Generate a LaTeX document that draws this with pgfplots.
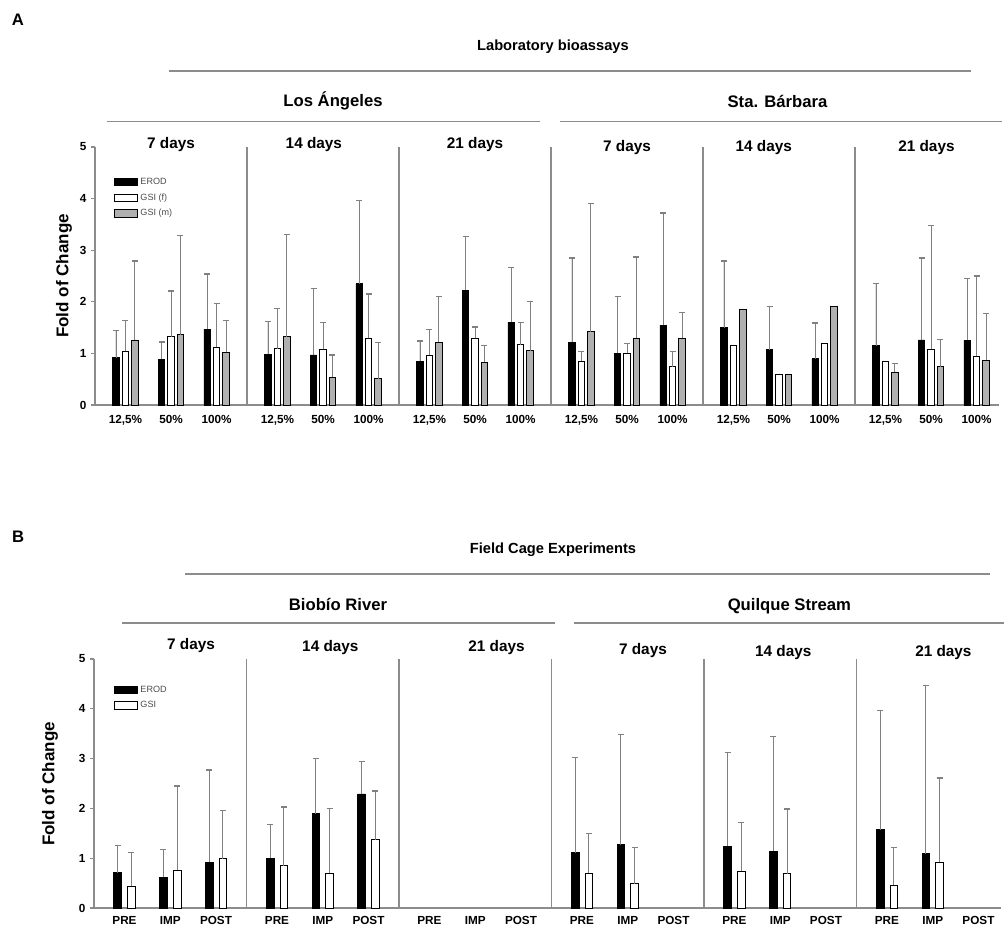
\documentclass[border=0pt]{standalone}
\usepackage{pgfplots}
\pgfplotsset{compat=1.18}
\usepackage{fontspec}
\setmainfont{Liberation Sans}
\definecolor{barg}{HTML}{B0B0B0}
\definecolor{errg}{HTML}{808080}
\definecolor{lineg}{HTML}{8C8C8C}
\newcommand\fs[1]{\fontsize{#1}{#1}\selectfont\bfseries}
\pgfplotsset{
 panel/.style={scale only axis, xmin=0, xmax=59.5, ymin=0, ymax=5, clip=false,
  axis x line*=bottom, axis y line*=left,
  axis line style={-, draw=lineg, line width=0.8pt},
  ytick={0,...,5}, tick align=outside, major tick length=3pt,
  ytick style={draw=lineg, line width=0.8pt},
  xtick style={draw=none},
  tick label style={font=\fs{8.8}},
  /pgf/number format/assume math mode=true,
  extra x ticks={10,20,30,40,50}, extra x tick labels={},
  extra x tick style={grid=major, major grid style={draw=lineg, line width=0.8pt}, tick style={draw=none}},
  legend cell align=left,
 },
 bars/.style={ybar, bar width=#1, bar shift=0pt, area legend, draw=black, line width=0.6pt},
 errs/.style={error bars/y dir=plus, error bars/y explicit,
  error bars/error bar style={draw=errg, line width=0.7pt},
  error bars/error mark options={draw=errg, mark size=2.3pt, line width=0.9pt, rotate=90}},
}
\begin{document}
\begin{tikzpicture}
\path[use as bounding box] (0,0) rectangle (753pt,694.5pt);
% ---------------- Panel A
\begin{axis}[panel, at={(71.25pt,390.75pt)}, anchor=south west, width=678.3pt, height=193.5pt,
 xtick={2,5,8,12,15,18,22,25,28,32,35,38,42,45,48,52,55,58},
 xticklabels={{12,5\%},50\%,100\%,{12,5\%},50\%,100\%,{12,5\%},50\%,100\%,{12,5\%},50\%,100\%,{12,5\%},50\%,100\%,{12,5\%},50\%,100\%},
 xticklabel style={yshift=-1pt},
 legend style={at={(axis cs:1.25,4.46)}, anchor=north west, draw=none, fill=none, inner sep=0pt,
   font=\fontsize{6.8}{7}\selectfont, text=black!70, row sep=1.5pt},
]
\addplot[bars=0.42, fill=black, errs] coordinates {
(1.38,0.92) +- (0,0.53) (4.38,0.89) +- (0,0.33) (7.38,1.47) +- (0,1.07)
(11.38,0.98) +- (0,0.64) (14.38,0.97) +- (0,1.28) (17.38,2.35) +- (0,1.62)
(21.38,0.85) +- (0,0.39) (24.38,2.22) +- (0,1.05) (27.38,1.60) +- (0,1.06)
(31.38,1.22) +- (0,1.63) (34.38,1.00) +- (0,1.11) (37.38,1.55) +- (0,2.17)
(41.38,1.50) +- (0,1.29) (44.38,1.07) +- (0,0.84) (47.38,0.90) +- (0,0.69)
(51.38,1.15) +- (0,1.20) (54.38,1.26) +- (0,1.59) (57.38,1.25) +- (0,1.20)};
\addlegendentry{EROD}
\addplot[bars=0.42, fill=white, errs] coordinates {
(2,1.04) +- (0,0.59) (5,1.32) +- (0,0.89) (8,1.12) +- (0,0.84)
(12,1.09) +- (0,0.78) (15,1.08) +- (0,0.52) (18,1.29) +- (0,0.86)
(22,0.97) +- (0,0.50) (25,1.29) +- (0,0.22) (28,1.17) +- (0,0.43)
(32,0.85) +- (0,0.18) (35,1.00) +- (0,0.19) (38,0.74) +- (0,0.30)
(55,1.08) +- (0,2.40) (58,0.94) +- (0,1.56)};
\addlegendentry{GSI (f)}
\addplot[bars=0.42, fill=barg, errs] coordinates {
(2.62,1.26) +- (0,1.53) (5.62,1.36) +- (0,1.93) (8.62,1.02) +- (0,0.61)
(12.62,1.32) +- (0,1.99) (15.62,0.54) +- (0,0.43) (18.62,0.51) +- (0,0.70)
(22.62,1.22) +- (0,0.89) (25.62,0.83) +- (0,0.32) (28.62,1.05) +- (0,0.95)
(32.62,1.42) +- (0,2.48) (35.62,1.30) +- (0,1.57) (38.62,1.29) +- (0,0.51)
(52.62,0.64) +- (0,0.17) (55.62,0.74) +- (0,0.53) (58.62,0.87) +- (0,0.91)};
\addlegendentry{GSI (m)}
\addplot[bars=0.42, fill=white, forget plot] coordinates {(42,1.16) (45,0.60) (48,1.20) (52,0.84)};
\addplot[bars=0.42, fill=barg, forget plot] coordinates {(42.62,1.86) (45.62,0.59) (48.62,1.91)};
% titles
\node[font=\fs{12.5}] at (axis cs:-5.07,7.46) {A};
\node[font=\fs{11}] at (axis cs:30.13,6.94) {Laboratory bioassays};
\draw[lineg, line width=1pt] (axis cs:4.9,6.47) -- (axis cs:57.6,6.47);
\node[font=\fs{12.5}] at (axis cs:15.66,5.89) {Los Ángeles};
\node[font=\fs{12.5}] at (axis cs:44.9,5.89) {Sta. Bárbara};
\draw[lineg, line width=1pt] (axis cs:0.8,5.5) -- (axis cs:29.3,5.5);
\draw[lineg, line width=1pt] (axis cs:30.6,5.5) -- (axis cs:59.7,5.5);
\node[font=\fs{11.5}] at (axis cs:5,5.04) {7 days};
\node[font=\fs{11.5}] at (axis cs:14.4,5.04) {14 days};
\node[font=\fs{11.5}] at (axis cs:25,5.04) {21 days};
\node[font=\fs{11.5}] at (axis cs:35,4.98) {7 days};
\node[font=\fs{11.5}] at (axis cs:44,4.98) {14 days};
\node[font=\fs{11.5}] at (axis cs:54.7,4.98) {21 days};
\node[font=\fs{12.75}, rotate=90] at (axis cs:-2.04,2.5) {Fold of Change};
\end{axis}
% ---------------- Panel B
\begin{axis}[panel, at={(70.5pt,13.5pt)}, anchor=south west, width=680.5pt, height=186.75pt,
 xtick={2,5,8,12,15,18,22,25,28,32,35,38,42,45,48,52,55,58},
 xticklabels={PRE,IMP,POST,PRE,IMP,POST,PRE,IMP,POST,PRE,IMP,POST,PRE,IMP,POST,PRE,IMP,POST},
 legend style={at={(axis cs:1.31,4.52)}, anchor=north west, draw=none, fill=none, inner sep=0pt,
   font=\fontsize{6.8}{7}\selectfont, text=black!70, row sep=1.5pt},
]
\addplot[bars=0.5, fill=black, errs] coordinates {
(1.55,0.71) +- (0,0.55) (4.55,0.62) +- (0,0.55) (7.55,0.92) +- (0,1.85)
(11.55,1.00) +- (0,0.68) (14.55,1.89) +- (0,1.11) (17.55,2.29) +- (0,0.65)
(31.55,1.11) +- (0,1.92) (34.55,1.27) +- (0,2.21)
(41.55,1.24) +- (0,1.89) (44.55,1.14) +- (0,2.31)
(51.55,1.57) +- (0,2.40) (54.55,1.09) +- (0,3.37)};
\addlegendentry{EROD}
\addplot[bars=0.5, fill=white, errs] coordinates {
(2.45,0.44) +- (0,0.68) (5.45,0.76) +- (0,1.69) (8.45,0.99) +- (0,0.97)
(12.45,0.85) +- (0,1.18) (15.45,0.70) +- (0,1.30) (18.45,1.37) +- (0,0.98)
(32.45,0.70) +- (0,0.79) (35.45,0.49) +- (0,0.72)
(42.45,0.74) +- (0,0.97) (45.45,0.69) +- (0,1.30)
(52.45,0.46) +- (0,0.75) (55.45,0.92) +- (0,1.69)};
\addlegendentry{GSI}
\node[font=\fs{12.5}] at (axis cs:-4.98,7.45) {B};
\node[font=\fs{11}] at (axis cs:30.1,7.19) {Field Cage Experiments};
\draw[lineg, line width=1pt] (axis cs:5.97,6.71) -- (axis cs:58.75,6.71);
\node[font=\fs{12.5}] at (axis cs:16.0,6.10) {Biobío River};
\node[font=\fs{12.5}] at (axis cs:45.6,6.06) {Quilque Stream};
\draw[lineg, line width=1pt] (axis cs:1.84,5.72) -- (axis cs:30.2,5.72);
\draw[lineg, line width=1pt] (axis cs:31.5,5.72) -- (axis cs:59.7,5.72);
\node[font=\fs{11.5}] at (axis cs:6.36,5.28) {7 days};
\node[font=\fs{11.5}] at (axis cs:15.5,5.24) {14 days};
\node[font=\fs{11.5}] at (axis cs:26.4,5.24) {21 days};
\node[font=\fs{11.5}] at (axis cs:36.0,5.18) {7 days};
\node[font=\fs{11.5}] at (axis cs:45.2,5.12) {14 days};
\node[font=\fs{11.5}] at (axis cs:55.7,5.14) {21 days};
\node[font=\fs{12.75}, rotate=90] at (axis cs:-2.89,2.49) {Fold of Change};
\end{axis}
\end{tikzpicture}
\end{document}
